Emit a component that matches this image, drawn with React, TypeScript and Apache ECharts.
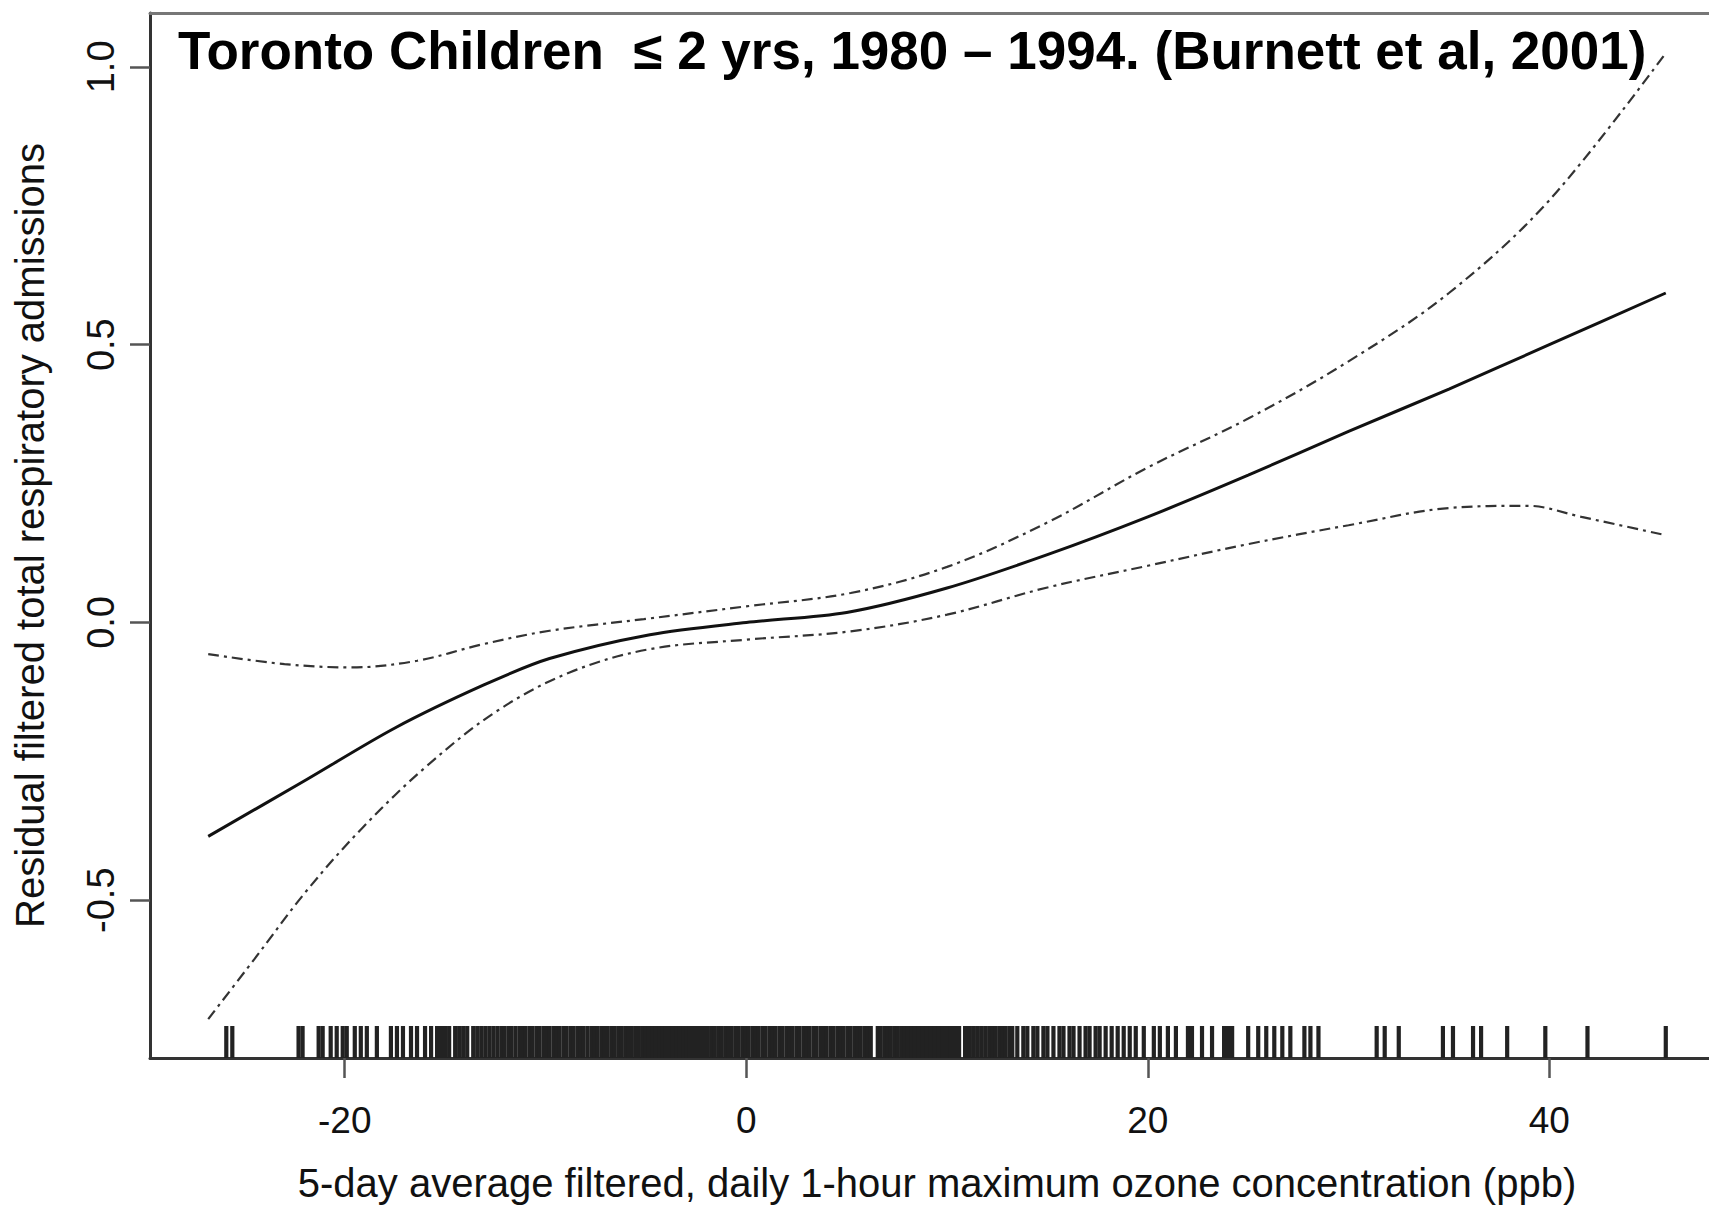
import React, { useEffect, useRef } from "react";
import * as echarts from "echarts";

const TITLE = "Toronto Children  ≤ 2 yrs, 1980 – 1994. (Burnett et al, 2001)";
const X_NAME = "5-day average filtered, daily 1-hour maximum ozone concentration (ppb)";
const Y_NAME = "Residual filtered total respiratory admissions";

const xTicks = [-20, 0, 20, 40];
const yTicks = [-0.5, 0.0, 0.5, 1.0];

const X_MIN = -29.7;
const X_MAX = 48.7;
const Y_MIN = -0.784;
const Y_MAX = 1.097;

const fitX = [-26.8, -22.0, -17.5, -13.1, -9.8, -4.8, 0, 5, 10, 15, 20, 25, 30, 35, 40, 45.8];
const fitY = [-0.385, -0.285, -0.19, -0.113, -0.065, -0.022, 0.0, 0.018, 0.062, 0.122, 0.19, 0.265, 0.344, 0.42, 0.5, 0.593];

const upperX = [-26.8, -23.0, -19.7, -16.4, -13.1, -9.8, -5.1, 0, 5.2, 10, 15, 20, 25, 30, 35, 40, 45.8];
const upperY = [-0.057, -0.075, -0.081, -0.069, -0.039, -0.015, 0.006, 0.029, 0.053, 0.1, 0.18, 0.279, 0.367, 0.47, 0.593, 0.76, 1.025];

const lowerX = [-26.8, -24.5, -21.9, -19.1, -15.9, -12.4, -8.8, -4.8, 0, 5.2, 10, 15, 20, 25, 30, 35, 38.9, 41.6, 45.8];
const lowerY = [-0.714, -0.606, -0.483, -0.369, -0.258, -0.159, -0.09, -0.048, -0.031, -0.016, 0.014, 0.063, 0.102, 0.141, 0.175, 0.206, 0.21, 0.19, 0.157];

const rugValues = [
  -25.9, -25.6, -22.3, -22.1, -21.3, -21.1, -20.7, -20.4, -20.1, -19.9, -19.5, -19.2, -18.9, -18.4,
  -17.7, -17.4, -17.1, -16.7, -16.4, -16.0, -15.7,
  -15.4, -15.2, -15.0, -14.8, -14.5, -14.3, -14.1, -13.9, -13.6, -13.4, -13.2, -13.0, -12.8, -12.6, -12.4,
  -12.2, -12.05, -11.85, -11.7, -11.5, -11.3, -11.15, -11.0, -10.8, -10.65, -10.45, -10.3, -10.1, -9.95,
  -9.8, -9.6, -9.45, -9.3, -9.1, -8.95, -8.75, -8.6, -8.4, -8.25, -8.1, -7.9, -7.7, -7.55, -7.4, -7.2,
  -7.05, -6.9, -6.7, -6.55, -6.35, -6.2, -6.0, -5.85, -5.7, -5.5, -5.35, -5.15, -5.0, -4.85, -4.65, -4.5,
  -4.3, -4.15, -4.0, -3.8, -3.65, -3.45, -3.3, -3.1, -2.95, -2.8, -2.6, -2.45, -2.25, -2.1, -1.95, -1.75,
  -1.6, -1.4, -1.25, -1.05, -0.9, -0.75, -0.55, -0.4, -0.2, -0.05, 0.1, 0.3, 0.45, 0.6, 0.8, 0.95, 1.15,
  1.3, 1.45, 1.65, 1.8, 2.0, 2.15, 2.3, 2.5, 2.65, 2.85, 3.0, 3.15, 3.35, 3.5, 3.7, 3.85, 4.0, 4.2, 4.35,
  4.55, 4.7, 4.85, 5.05, 5.2, 5.4, 5.55, 5.7, 5.9, 6.05, 6.2, 6.55, 6.7, 6.9, 7.05, 7.2, 7.4, 7.55, 7.75,
  7.9, 8.05, 8.25, 8.4, 8.6, 8.8, 9.0, 9.2, 9.4, 9.6, 9.8, 10.0, 10.2, 10.4, 10.6, 10.9, 11.1, 11.3, 11.5,
  11.7, 11.9, 12.1, 12.25, 12.4, 12.6, 12.75, 12.9, 13.1, 13.25, 13.5, 13.8, 14.0, 14.3, 14.5, 14.8, 15.0,
  15.3, 15.6, 15.8, 16.1, 16.3, 16.6, 16.9, 17.1, 17.4, 17.6, 17.9, 18.2, 18.5, 18.8, 19.1, 19.4, 19.8,
  20.3, 20.6, 21.0, 21.4, 22.0, 22.2, 22.7, 23.2, 23.8, 24.0, 24.2, 25.0, 25.5, 25.9, 26.3, 26.7, 27.1,
  27.8, 28.1, 28.5, 31.4, 31.8, 32.5, 34.7, 35.2, 36.2, 36.6, 37.9, 39.8, 41.9, 45.8,
];

const FONT = '"Liberation Sans", Arial, Helvetica, sans-serif';

const zip = (xs: number[], ys: number[]) => xs.map((x, i) => [x, ys[i]]);

export default function App() {
  const ref = useRef<HTMLDivElement>(null);

  useEffect(() => {
    if (!ref.current) return;
    const chart = echarts.init(ref.current, null, { renderer: "svg" });
    const ciStyle = { color: "#333", width: 2.2, type: [11, 5, 3, 5] as any };
    const option: any = {
      animation: false,
      backgroundColor: "#ffffff",
      grid: { left: 150, top: 13, width: 1574, height: 1045, containLabel: false },
      xAxis: [
        {
          type: "value",
          min: X_MIN,
          max: X_MAX,
          position: "bottom",
          axisLine: { show: true, onZero: false, lineStyle: { color: "#333", width: 3 } },
          axisTick: { show: true, length: 20, customValues: xTicks, lineStyle: { color: "#555", width: 2.5 } },
          axisLabel: {
            customValues: xTicks,
            formatter: (v: number) => String(v),
            fontSize: 37,
            margin: 44,
            color: "#111",
            fontFamily: FONT,
          },
          splitLine: { show: false },
          name: X_NAME,
          nameLocation: "middle",
          nameGap: 105,
          nameTextStyle: { fontSize: 40, color: "#111", fontFamily: FONT },
        },
        {
          type: "value",
          min: X_MIN,
          max: X_MAX,
          position: "top",
          axisLine: { show: true, onZero: false, lineStyle: { color: "#777", width: 3 } },
          axisTick: { show: false },
          axisLabel: { show: false },
          splitLine: { show: false },
        },
      ],
      yAxis: {
        type: "value",
        min: Y_MIN,
        max: Y_MAX,
        axisLine: { show: true, onZero: false, lineStyle: { color: "#333", width: 3 } },
        axisTick: { show: true, length: 20, customValues: yTicks, lineStyle: { color: "#555", width: 2.5 } },
        axisLabel: {
          customValues: yTicks,
          formatter: (v: number) => v.toFixed(1),
          rotate: 90,
          fontSize: 38,
          margin: 30,
          color: "#111",
          fontFamily: FONT,
        },
        splitLine: { show: false },
        name: Y_NAME,
        nameLocation: "middle",
        nameGap: 100,
        nameRotate: 90,
        nameTextStyle: { fontSize: 40, color: "#111", fontFamily: FONT },
      },
      graphic: [
        {
          type: "text",
          x: 178,
          y: 50,
          style: {
            text: TITLE,
            font: `bold 53px ${FONT}`,
            fill: "#000",
            align: "left",
            verticalAlign: "middle",
          },
          z: 100,
        },
      ],
      series: [
        {
          type: "custom",
          xAxisIndex: 0,
          yAxisIndex: 0,
          data: rugValues.map((v) => [v, Y_MIN]),
          encode: { x: 0, y: 1 },
          renderItem: (params: any, api: any) => {
            const p = api.coord([api.value(0), Y_MIN]);
            return {
              type: "line",
              shape: { x1: p[0], y1: p[1], x2: p[0], y2: p[1] - 32 },
              style: { stroke: "#222", lineWidth: 4.2 },
            };
          },
          silent: true,
          z: 1,
        },
        {
          type: "line",
          data: zip(fitX, fitY),
          showSymbol: false,
          smooth: 0.3,
          lineStyle: { color: "#111", width: 3 },
          z: 3,
        },
        {
          type: "line",
          data: zip(upperX, upperY),
          showSymbol: false,
          smooth: 0.35,
          lineStyle: ciStyle,
          z: 2,
        },
        {
          type: "line",
          data: zip(lowerX, lowerY),
          showSymbol: false,
          smooth: 0.35,
          lineStyle: ciStyle,
          z: 2,
        },
      ],
    };
    chart.setOption(option);
    return () => chart.dispose();
  }, []);

  return (
    <div
      style={{
        position: "fixed",
        left: 0,
        top: 0,
        width: 1709,
        height: 1210,
        overflow: "hidden",
        background: "#fff",
      }}
    >
      <div ref={ref} style={{ width: 1740, height: 1210 }} />
    </div>
  );
}
